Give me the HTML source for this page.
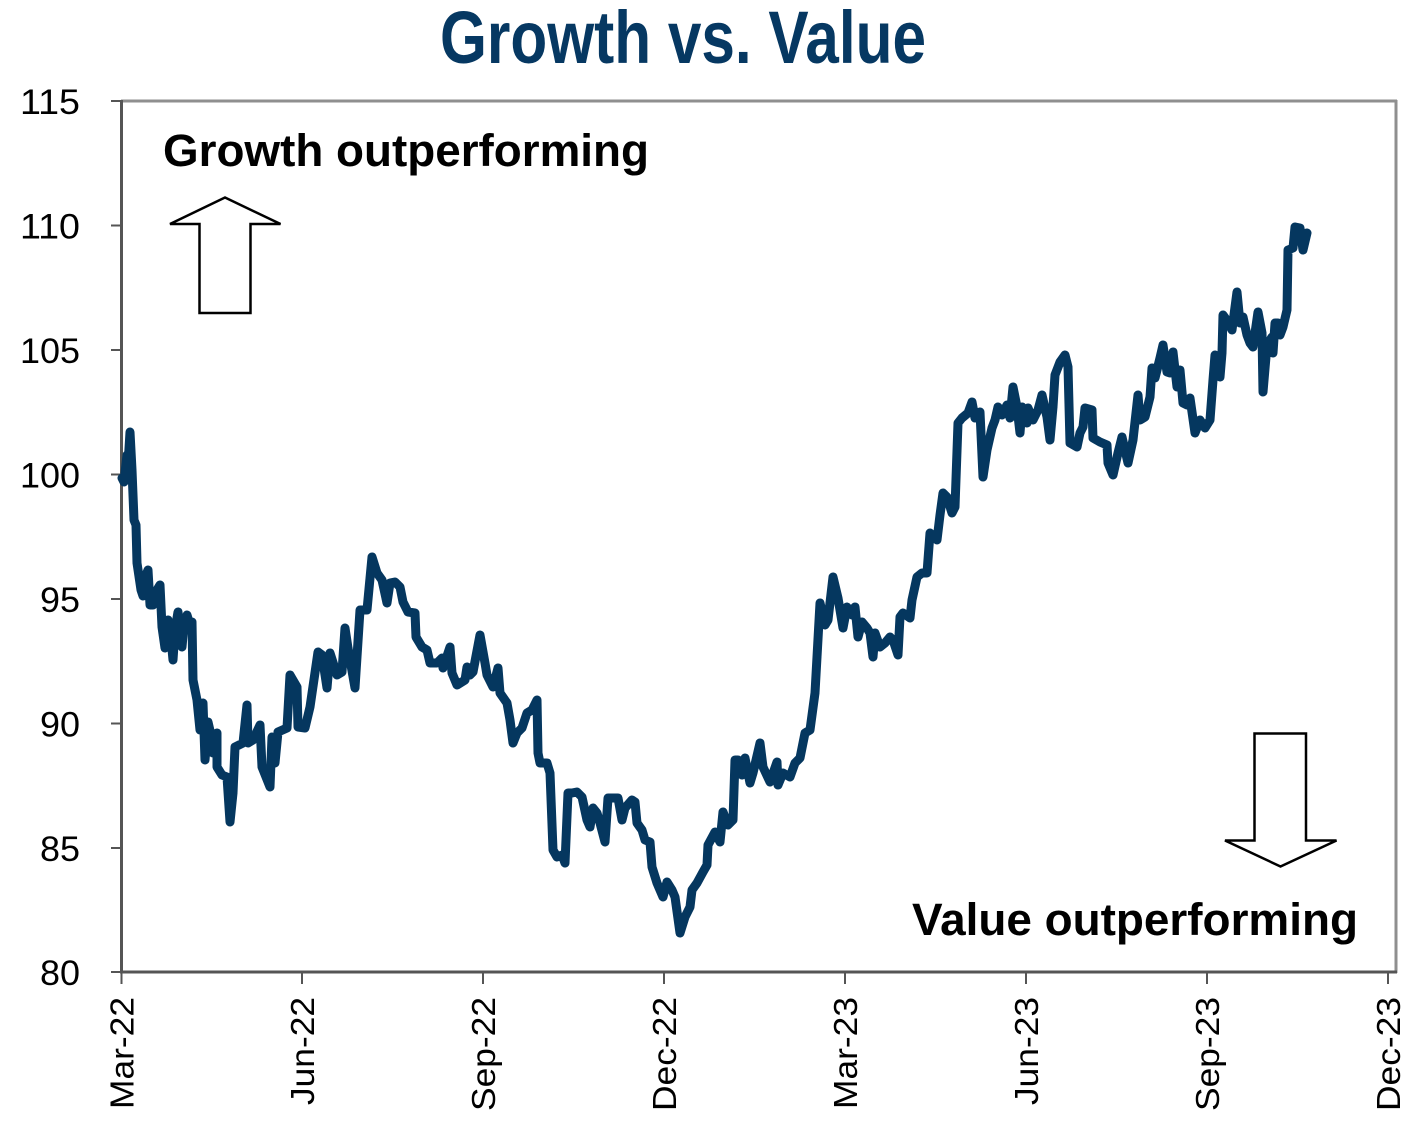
<!DOCTYPE html>
<html>
<head>
<meta charset="utf-8">
<style>
html,body{margin:0;padding:0;background:#fff;}
svg{display:block;}
text{font-family:"Liberation Sans",Arial,sans-serif;}
</style>
</head>
<body>
<svg width="1420" height="1136" viewBox="0 0 1420 1136" xmlns="http://www.w3.org/2000/svg">
<rect width="1420" height="1136" fill="#fff"/>
<!-- title -->
<text x="683" y="63" text-anchor="middle" font-size="74" font-weight="bold" fill="#063862" textLength="486" lengthAdjust="spacingAndGlyphs">Growth vs. Value</text>

<!-- plot frame -->
<line x1="121" y1="101" x2="1397" y2="101" stroke="#8f8f8f" stroke-width="3"/>
<line x1="1396" y1="100" x2="1396" y2="973" stroke="#8f8f8f" stroke-width="3"/>
<line x1="121.5" y1="100" x2="121.5" y2="973" stroke="#555" stroke-width="3"/>
<line x1="120" y1="972" x2="1397" y2="972" stroke="#555" stroke-width="3"/>

<!-- y ticks -->
<g stroke="#555" stroke-width="2">
<line x1="111" y1="101" x2="121" y2="101"/>
<line x1="111" y1="225.5" x2="121" y2="225.5"/>
<line x1="111" y1="350" x2="121" y2="350"/>
<line x1="111" y1="474.5" x2="121" y2="474.5"/>
<line x1="111" y1="599" x2="121" y2="599"/>
<line x1="111" y1="723.5" x2="121" y2="723.5"/>
<line x1="111" y1="848" x2="121" y2="848"/>
<line x1="111" y1="972" x2="121" y2="972"/>
</g>
<!-- x ticks -->
<g stroke="#555" stroke-width="2">
<line x1="121.5" y1="972" x2="121.5" y2="984"/>
<line x1="302" y1="972" x2="302" y2="984"/>
<line x1="483" y1="972" x2="483" y2="984"/>
<line x1="664" y1="972" x2="664" y2="984"/>
<line x1="845" y1="972" x2="845" y2="984"/>
<line x1="1026" y1="972" x2="1026" y2="984"/>
<line x1="1207" y1="972" x2="1207" y2="984"/>
<line x1="1388" y1="972" x2="1388" y2="984"/>
</g>

<!-- y labels -->
<g font-size="35" fill="#000" text-anchor="end">
<text x="80" y="114" textLength="60" lengthAdjust="spacingAndGlyphs">115</text>
<text x="80" y="238.5" textLength="60" lengthAdjust="spacingAndGlyphs">110</text>
<text x="80" y="363" textLength="60" lengthAdjust="spacingAndGlyphs">105</text>
<text x="80" y="487.5" textLength="60" lengthAdjust="spacingAndGlyphs">100</text>
<text x="80" y="612" textLength="40" lengthAdjust="spacingAndGlyphs">95</text>
<text x="80" y="736.5" textLength="40" lengthAdjust="spacingAndGlyphs">90</text>
<text x="80" y="861" textLength="40" lengthAdjust="spacingAndGlyphs">85</text>
<text x="80" y="985" textLength="40" lengthAdjust="spacingAndGlyphs">80</text>
</g>

<!-- x labels -->
<g font-size="33" fill="#000" text-anchor="end">
<text transform="translate(133.5,997) rotate(-90)" textLength="112" lengthAdjust="spacingAndGlyphs">Mar-22</text>
<text transform="translate(314,997) rotate(-90)" textLength="108" lengthAdjust="spacingAndGlyphs">Jun-22</text>
<text transform="translate(495,997) rotate(-90)" textLength="114" lengthAdjust="spacingAndGlyphs">Sep-22</text>
<text transform="translate(676,997) rotate(-90)" textLength="114" lengthAdjust="spacingAndGlyphs">Dec-22</text>
<text transform="translate(857,997) rotate(-90)" textLength="112" lengthAdjust="spacingAndGlyphs">Mar-23</text>
<text transform="translate(1038,997) rotate(-90)" textLength="108" lengthAdjust="spacingAndGlyphs">Jun-23</text>
<text transform="translate(1219,997) rotate(-90)" textLength="114" lengthAdjust="spacingAndGlyphs">Sep-23</text>
<text transform="translate(1400,997) rotate(-90)" textLength="114" lengthAdjust="spacingAndGlyphs">Dec-23</text>
</g>

<!-- annotations -->
<text x="163" y="166" font-size="45" font-weight="bold" fill="#000" textLength="486" lengthAdjust="spacingAndGlyphs">Growth outperforming</text>
<text x="912" y="935" font-size="45" font-weight="bold" fill="#000" textLength="446" lengthAdjust="spacingAndGlyphs">Value outperforming</text>

<polygon points="225,197.5 280.5,224 250.5,224 250.5,313 199.5,313 199.5,224 170,224" fill="#fff" stroke="#000" stroke-width="2.5" stroke-linejoin="miter"/>
<polygon points="1254.5,733.5 1306,733.5 1306,840.5 1336.5,840.5 1280.5,866.5 1225,840.5 1254.5,840.5" fill="#fff" stroke="#000" stroke-width="2.5" stroke-linejoin="miter"/>

<!-- series -->
<polyline fill="none" stroke="#05375f" stroke-width="9" stroke-linejoin="round" stroke-linecap="round" points="
122,478 124,482 127,455 128,465 130,432 132,470 134,520 136,525 137,563 141,590 143,596 146,575 148,570 150,605 153,605 157,590 160,585 162,627 165,648 168,620 170,628 173,660 175,630 178,612 182,647 184,625 187,615 190,625 192,622 193,680 197,700 200,730 203,703 205,760 208,722 211,735 213,753 217,733 217,767 222,775 227,777 230,822 233,793 235,747 243,743 247,705 248,743 253,740 260,725 262,767 270,787 272,737 275,763 278,732 287,728 290,675 297,687 298,727 305,728 310,707 318,652 322,655 327,688 330,653 337,675 342,672 345,628 348,648 355,688 360,610 367,610 372,557 377,573 382,580 387,603 390,583 395,582 400,587 403,602 408,612 415,613 416,637 422,647 427,650 430,663 437,663 442,658 443,668 450,647 452,673 457,685 465,680 467,667 470,675 473,672 480,635 485,663 487,675 493,687 498,668 500,693 507,703 510,720 513,743 517,733 522,728 527,713 532,710 537,700 538,753 540,763 547,763 550,773 553,850 557,857 562,855 565,863 568,793 572,793 577,792 582,797 587,820 590,827 593,808 597,813 600,823 605,842 608,798 613,798 618,798 622,820 625,808 632,800 635,802 637,823 642,830 645,840 650,842 652,867 657,883 663,897 667,882 672,890 675,897 680,933 685,917 690,907 692,890 697,883 703,872 707,865 708,845 715,832 720,842 723,812 728,825 733,820 735,760 738,760 742,775 745,758 750,783 753,773 760,743 763,767 770,782 777,762 778,785 783,773 790,777 795,763 800,758 805,733 810,730 815,693 820,603 825,625 828,620 833,577 838,598 843,628 847,607 852,615 855,607 858,637 862,622 867,628 870,633 873,657 875,633 880,647 885,643 890,637 893,640 898,655 900,617 903,613 910,618 912,600 917,577 922,573 927,573 930,533 937,540 940,515 943,493 947,497 952,513 955,507 958,423 962,418 968,413 972,402 975,418 980,412 983,477 987,450 992,428 995,420 998,407 1002,415 1007,405 1010,418 1013,387 1017,407 1020,433 1022,407 1027,423 1028,408 1033,420 1038,410 1042,395 1047,417 1050,440 1053,407 1055,375 1060,362 1065,355 1068,367 1070,443 1077,447 1080,433 1083,427 1085,408 1092,410 1093,438 1100,442 1107,445 1108,463 1113,475 1118,453 1122,437 1128,463 1133,440 1138,395 1140,420 1145,417 1150,397 1152,368 1155,378 1160,358 1163,345 1167,372 1170,373 1173,352 1177,387 1180,370 1183,403 1187,405 1190,398 1195,433 1200,420 1205,428 1210,420 1213,380 1215,355 1220,377 1222,353 1223,315 1228,322 1232,330 1237,292 1240,323 1243,317 1247,335 1250,343 1253,347 1258,312 1262,333 1263,392 1267,345 1272,337 1273,353 1275,323 1278,323 1280,335 1283,327 1287,310 1288,250 1293,248 1295,227 1300,228 1303,250 1307,233"/>
</svg>
</body>
</html>
